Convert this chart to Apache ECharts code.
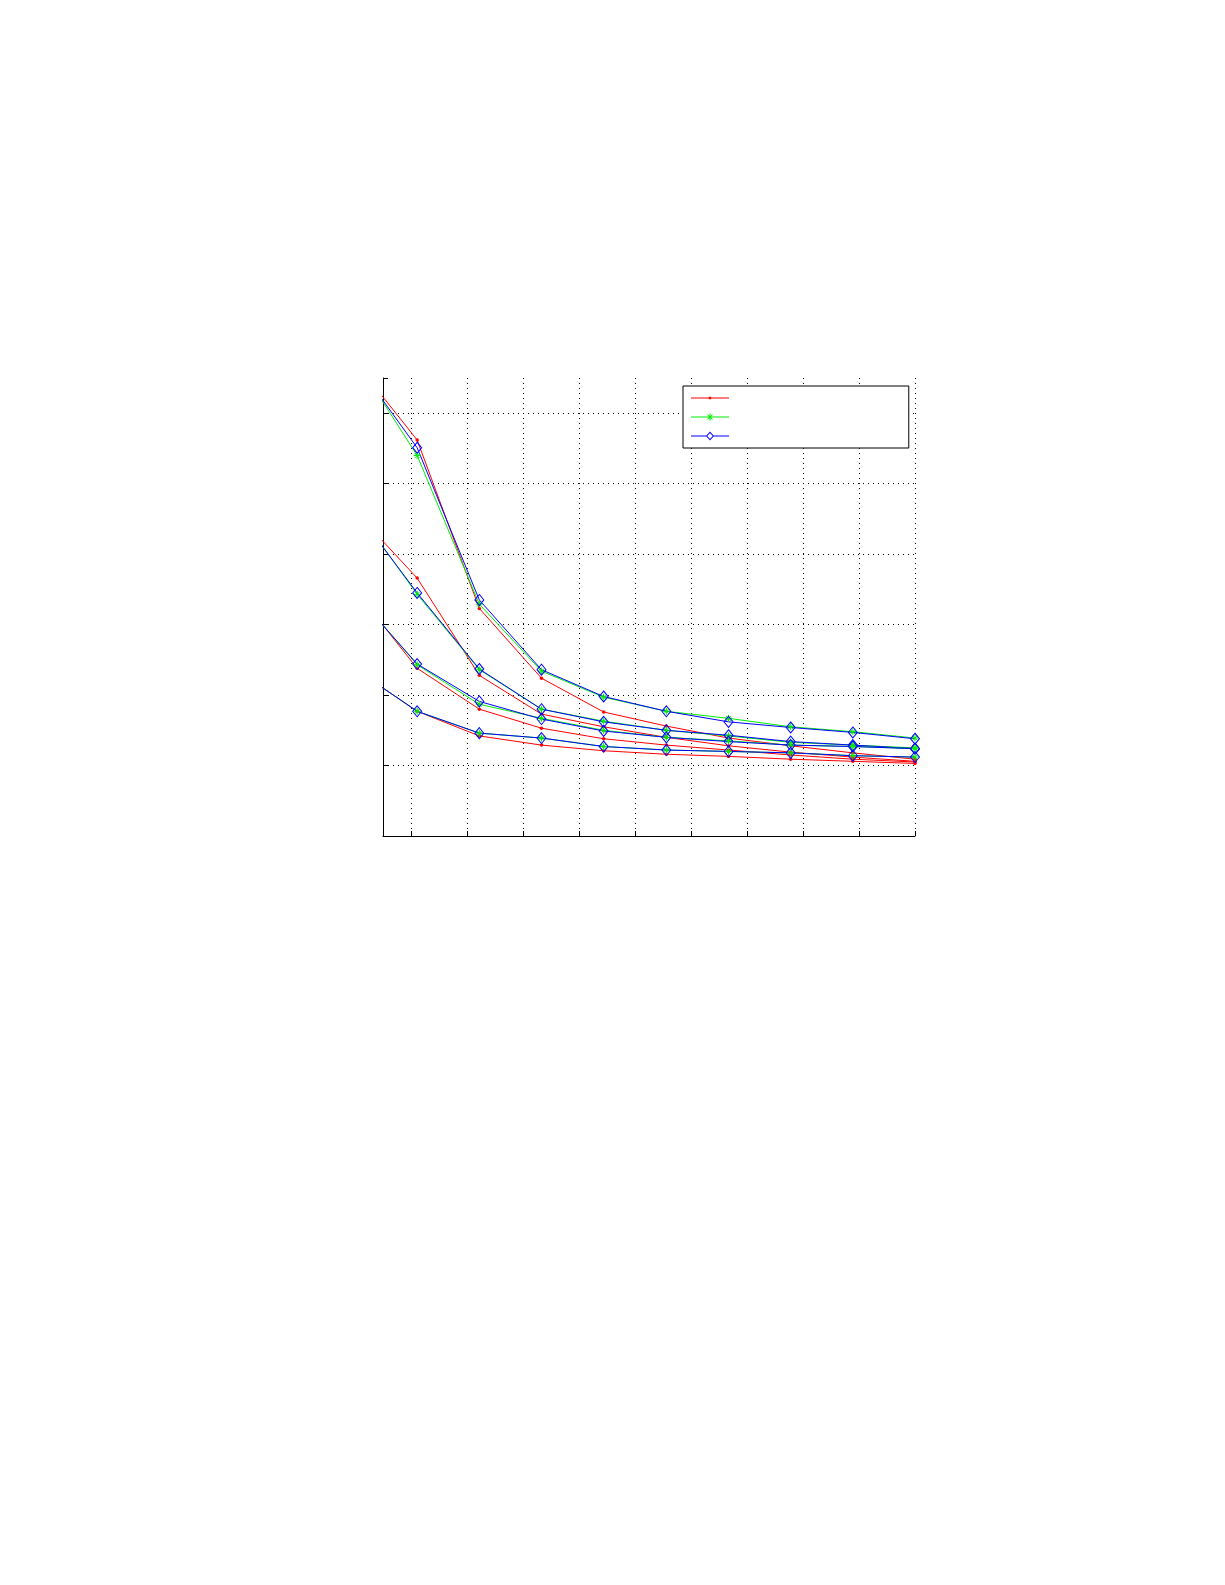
<!DOCTYPE html>
<html>
<head>
<meta charset="utf-8">
<script src="https://cdn.jsdelivr.net/npm/echarts@6/dist/echarts.min.js"></script>
<style>
  html, body { margin: 0; padding: 0; background: #fff; }
  #main { width: 1225px; height: 1585px; }
</style>
</head>
<body>
<div id="main"></div>
<script>
// x positions of the samples; the axis itself starts at 0.5 so the first sample is clipped
var xValues = [0, 1.11, 2.22, 3.33, 4.44, 5.56, 6.67, 7.78, 8.89, 10];

// four groups of curves, each drawn red (.), green (*) and blue (diamond)
var redA = [6.73, 5.62, 3.23, 2.24, 1.76, 1.56, 1.39, 1.28, 1.18, 1.09];
var greenA = [6.78, 5.40, 3.29, 2.34, 1.97, 1.77, 1.67, 1.55, 1.48, 1.39];
var blueA = [6.73, 5.51, 3.35, 2.36, 1.98, 1.77, 1.62, 1.54, 1.47, 1.38];

var redB = [4.61, 3.66, 2.28, 1.73, 1.55, 1.40, 1.28, 1.19, 1.12, 1.06];
var greenB = [4.65, 3.43, 2.36, 1.80, 1.63, 1.50, 1.42, 1.33, 1.29, 1.25];
var blueB = [4.63, 3.45, 2.37, 1.80, 1.62, 1.50, 1.43, 1.34, 1.29, 1.24];

var redC = [3.49, 2.38, 1.80, 1.53, 1.38, 1.29, 1.22, 1.15, 1.09, 1.05];
var greenC = [3.45, 2.43, 1.87, 1.67, 1.50, 1.40, 1.35, 1.29, 1.27, 1.24];
var blueC = [3.44, 2.44, 1.91, 1.66, 1.49, 1.40, 1.34, 1.29, 1.27, 1.24];

var redD = [2.37, 1.77, 1.42, 1.29, 1.21, 1.16, 1.13, 1.09, 1.06, 1.03];
var greenD = [2.37, 1.77, 1.46, 1.39, 1.27, 1.22, 1.20, 1.18, 1.14, 1.12];
var blueD = [2.37, 1.77, 1.46, 1.39, 1.27, 1.22, 1.20, 1.18, 1.14, 1.12];

var groups = [
  [redA, greenA, blueA],
  [redB, greenB, blueB],
  [redC, greenC, blueC],
  [redD, greenD, blueD]
];

var RED = '#ff0000';
var GREEN = '#00ee00';
var BLUE = '#0000ff';
var STAR = 'path://M0,-5L0,5M-5,0L5,0M-3.5,-3.5L3.5,3.5M-3.5,3.5L3.5,-3.5';

// legend samples (thin line + marker), drawn as filled shapes in a 38x10 box
var RED_ICON = 'path://M0,4.5L38,4.5L38,5.5L0,5.5Z M17.8,3.8L20.2,3.8L20.2,6.2L17.8,6.2Z';
var GREEN_ICON = 'path://M0,4.5L38,4.5L38,5.5L0,5.5Z' +
  'M18.5,1.5L19.5,1.5L19.5,8.5L18.5,8.5Z' +
  'M16.85,2.15L21.85,7.15L21.15,7.85L16.15,2.85Z' +
  'M21.15,2.15L21.85,2.85L16.85,7.85L16.15,7.15Z';
var BLUE_ICON = 'path://M0,4.5L15.4,4.5L15.4,5.5L0,5.5Z' +
  'M22.6,4.5L38,4.5L38,5.5L22.6,5.5Z' +
  'M19,0.5L23,5L19,9.5L15,5Z' +
  'M19,1.9L16.3,5L19,8.1L21.7,5Z';

function pairs (ys) {
  return xValues.map(function (x, i) { return [x, ys[i]]; });
}

function makeSeries (name, ys, color, symbol, size, filled) {
  return {
    name: name,
    type: 'line',
    data: pairs(ys),
    symbol: symbol,
    symbolSize: size,
    showAllSymbol: true,
    clip: true,
    lineStyle: { color: color, width: 1 },
    itemStyle: filled
      ? { color: color }
      : { color: 'rgba(0,0,0,0)', borderColor: color, borderWidth: 1 },
    emphasis: { disabled: true },
    z: 3
  };
}

var series = [];
for (var g = 0; g < groups.length; g++) {
  series.push(makeSeries('red', groups[g][0], RED, 'circle', 3.5, true));
  series.push(makeSeries('green', groups[g][1], GREEN, STAR, 7, false));
  series.push(makeSeries('blue', groups[g][2], BLUE, 'diamond', [9, 11], false));
}

var dom = document.getElementById('main');
var myChart = echarts.init(dom);

var gridDots = { color: '#000', width: 1, type: [1, 4] };

var option = {
  animation: false,
  backgroundColor: '#fff',
  grid: { left: 383, top: 378, width: 532, height: 458, containLabel: false },
  legend: {
    orient: 'vertical',
    left: 683,
    top: 386,
    data: [
      { name: 'red', icon: RED_ICON, itemStyle: { color: RED, borderWidth: 0 } },
      { name: 'green', icon: GREEN_ICON, itemStyle: { color: GREEN, borderWidth: 0 } },
      { name: 'blue', icon: BLUE_ICON, itemStyle: { color: BLUE, borderWidth: 0 } }
    ],
    // the original legend has no readable labels; a blank keeps every row 10px tall
    formatter: function () { return ' '; },
    textStyle: { fontSize: 10, lineHeight: 10 },
    itemWidth: 38,
    itemHeight: 10,
    itemGap: 9,
    padding: [7, 172, 7, 8],
    borderColor: '#000',
    borderWidth: 1,
    backgroundColor: '#fff',
    selectedMode: false
  },
  xAxis: {
    type: 'value',
    min: 0.5,
    max: 10,
    minInterval: 1,
    maxInterval: 1,
    axisLine: { show: true, onZero: false, lineStyle: { color: '#000', width: 1 } },
    axisTick: { show: true, inside: true, length: 5, lineStyle: { color: '#000' } },
    axisLabel: { show: false },
    splitLine: { show: true, showMinLine: false, lineStyle: gridDots }
  },
  yAxis: {
    type: 'value',
    min: 0,
    max: 6.5,
    interval: 1,
    axisLine: { show: true, onZero: false, lineStyle: { color: '#000', width: 1 } },
    axisTick: { show: true, inside: true, length: 5, lineStyle: { color: '#000' } },
    axisLabel: { show: false },
    splitLine: { show: true, showMinLine: false, showMaxLine: false, lineStyle: gridDots }
  },
  series: series
};

myChart.setOption(option);
</script>
</body>
</html>
